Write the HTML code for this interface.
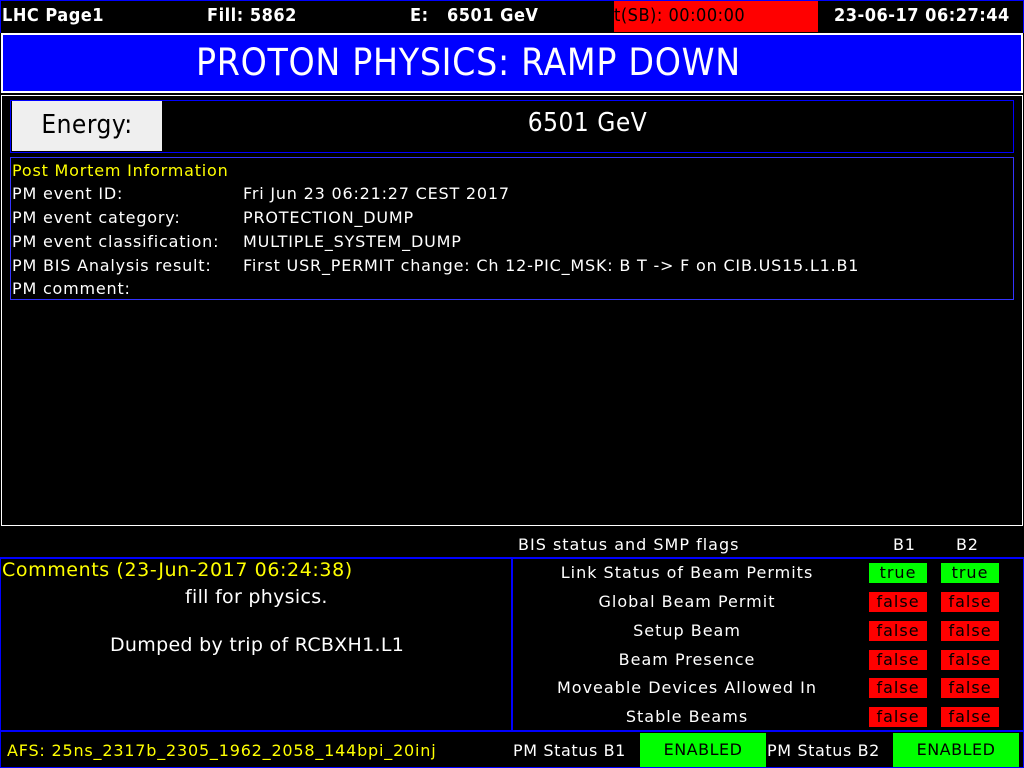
<!DOCTYPE html>
<html><head><meta charset="utf-8"><style>
body{margin:0;width:1024px;height:768px;background:#000;overflow:hidden;position:relative;font-family:"DejaVu Sans","Liberation Sans",sans-serif;color:#fff}
div,span{position:absolute;box-sizing:border-box;white-space:nowrap}
.tb{font-family:"DejaVu Sans Condensed","DejaVu Sans",sans-serif;font-weight:bold;font-size:18px;top:6px;line-height:20px;letter-spacing:0.5px}
.lbl{font-size:16px;line-height:20px;letter-spacing:0.8px}
.flag{width:58px;height:20px;color:#000;font-size:16px;text-align:center;line-height:20px;letter-spacing:1px}
.t{background:#0f0}.f{background:#f00}
.row{left:500px;width:374px;text-align:center;font-size:16px;letter-spacing:1px}
</style></head><body>
<div style="left:0;top:0;width:1024px;height:33px;border:1px solid #00f;border-bottom:none"></div>
<span class="tb" style="left:2px">LHC Page1</span>
<span class="tb" style="left:207px">Fill: 5862</span>
<span class="tb" style="left:410px">E:&nbsp;&nbsp; 6501 GeV</span>
<div style="left:614px;top:1px;width:204px;height:31px;background:#f00"></div>
<span class="tb" style="left:614px;color:#000;font-weight:normal;font-size:18px">t(SB): 00:00:00</span>
<span class="tb" style="left:834px">23-06-17 06:27:44</span>
<div style="left:1px;top:33px;width:1022px;height:60px;border:2px solid #fff;background:#00f;font-family:'DejaVu Sans Condensed','DejaVu Sans',sans-serif;font-size:37px;letter-spacing:0.7px;line-height:56px;padding-left:193px">PROTON PHYSICS: RAMP DOWN</div>
<div style="left:1px;top:95px;width:1022px;height:431px;border:1px solid #fff"></div>
<div style="left:10px;top:100px;width:1004px;height:53px;border:1px solid #00f"></div>
<div style="left:12px;top:101px;width:150px;height:50px;background:#efefef;color:#000;font-family:'DejaVu Sans Condensed','DejaVu Sans',sans-serif;font-size:26px;letter-spacing:0.5px;line-height:48px;text-align:center">Energy:</div>
<span style="left:162px;width:851px;top:106px;text-align:center;font-family:'DejaVu Sans Condensed','DejaVu Sans',sans-serif;font-size:26px;letter-spacing:0.5px;line-height:34px">6501 GeV</span>
<div style="left:10px;top:157px;width:1004px;height:143px;border:1px solid #33f"></div>
<span class="lbl" style="left:12px;top:161px;color:#ff0">Post Mortem Information</span>
<span class="lbl" style="left:12px;top:184px">PM event ID:</span>
<span class="lbl" style="left:243px;top:184px">Fri Jun 23 06:21:27 CEST 2017</span>
<span class="lbl" style="left:12px;top:208px">PM event category:</span>
<span class="lbl" style="left:243px;top:208px">PROTECTION_DUMP</span>
<span class="lbl" style="left:12px;top:232px">PM event classification:</span>
<span class="lbl" style="left:243px;top:232px">MULTIPLE_SYSTEM_DUMP</span>
<span class="lbl" style="left:12px;top:256px">PM BIS Analysis result:</span>
<span class="lbl" style="left:243px;top:256px">First USR_PERMIT change: Ch 12-PIC_MSK: B T -&gt; F on CIB.US15.L1.B1</span>
<span class="lbl" style="left:12px;top:279px">PM comment:</span>

<span class="lbl" style="left:518px;top:535px;letter-spacing:1px">BIS status and SMP flags</span>
<span class="lbl" style="left:893px;top:535px">B1</span>
<span class="lbl" style="left:956px;top:535px">B2</span>
<div style="left:0;top:557px;width:1024px;height:175px;border-top:2px solid #00f;border-bottom:2px solid #00f;border-left:1px solid #00f;border-right:1px solid #00f"></div>
<div style="left:511px;top:557px;width:2px;height:175px;background:#00f"></div>
<span style="left:2px;top:559px;font-size:19px;letter-spacing:0.6px;color:#ff0">Comments (23-Jun-2017 06:24:38)</span>
<span style="left:185px;top:586px;font-size:19px;letter-spacing:0.3px">fill for physics.</span>
<span style="left:110px;top:634px;font-size:19px;letter-spacing:0.3px">Dumped by trip of RCBXH1.L1</span>

<span class="row" style="top:563px">Link Status of Beam Permits</span>
<div class="flag t" style="left:869px;top:563px">true</div>
<div class="flag t" style="left:941px;top:563px">true</div>
<span class="row" style="top:592px">Global Beam Permit</span>
<div class="flag f" style="left:869px;top:592px">false</div>
<div class="flag f" style="left:941px;top:592px">false</div>
<span class="row" style="top:621px">Setup Beam</span>
<div class="flag f" style="left:869px;top:621px">false</div>
<div class="flag f" style="left:941px;top:621px">false</div>
<span class="row" style="top:650px">Beam Presence</span>
<div class="flag f" style="left:869px;top:650px">false</div>
<div class="flag f" style="left:941px;top:650px">false</div>
<span class="row" style="top:678px">Moveable Devices Allowed In</span>
<div class="flag f" style="left:869px;top:678px">false</div>
<div class="flag f" style="left:941px;top:678px">false</div>
<span class="row" style="top:707px">Stable Beams</span>
<div class="flag f" style="left:869px;top:707px">false</div>
<div class="flag f" style="left:941px;top:707px">false</div>

<div style="left:0;top:732px;width:1024px;height:36px;border:1px solid #00f;border-top:none"></div>
<span class="lbl" style="left:7px;top:741px;color:#ff0;letter-spacing:0.8px">AFS: 25ns_2317b_2305_1962_2058_144bpi_20inj</span>
<span class="lbl" style="left:513px;top:741px;letter-spacing:0.6px">PM Status B1</span>
<div style="left:640px;top:733px;width:126px;height:34px;background:#0f0;color:#000;text-align:center;line-height:34px;font-size:16px;letter-spacing:0.5px">ENABLED</div>
<span class="lbl" style="left:767px;top:741px;letter-spacing:0.6px">PM Status B2</span>
<div style="left:893px;top:733px;width:126px;height:34px;background:#0f0;color:#000;text-align:center;line-height:34px;font-size:16px;letter-spacing:0.5px">ENABLED</div>
</body></html>
